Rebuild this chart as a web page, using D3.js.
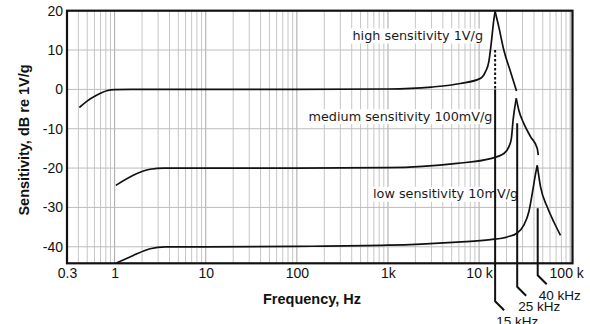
<!DOCTYPE html>
<html><head><meta charset="utf-8">
<script src="https://cdn.jsdelivr.net/npm/d3@7"></script>
<style>html,body{margin:0;padding:0;background:#fff;} svg{display:block;}</style>
</head><body><svg id="c" width="590" height="324"></svg>
<script>
// ---- data ----
const freqTicks = [0.3, 1, 10, 100, 1000, 10000, 100000];
const freqTickLabels = ["0.3", "1", "10", "100", "1k", "10 k", "100 k"];
const dbTicks = [20, 10, 0, -10, -20, -30, -40];

const highFreq = [0.41, 0.49, 0.64, 0.82, 1.0, 1.5, 10, 100, 1000, 3000, 6245, 10360, 11760, 12780, 13590, 14500, 15000, 16460, 18680, 22130, 25770];
const highDb   = [-4.6, -3.1, -1.45, -0.35, -0.05, 0, 0, 0, 0.1, 0.6, 1.5, 2.8, 4.5, 7, 11.7, 17.6, 19.8, 15.9, 10, 4.5, -0.4];

const mediumFreq = [1.03, 1.6, 2.45, 3.5, 10, 100, 1000, 5745, 13340, 18670, 21200, 22600, 23700, 25600, 27300, 31000, 36700, 43500, 44600];
const mediumDb   = [-24.4, -21.8, -20.3, -20, -20, -20, -19.9, -18.8, -17.6, -16.3, -14.6, -12.5, -7.5, -2.3, -5.3, -8.7, -12, -15, -16.7];

const lowFreq = [1.03, 1.6, 2.45, 3.6, 10, 100, 1000, 5745, 13340, 20370, 26220, 30990, 35170, 38300, 41690, 43500, 47300, 56000, 66200, 78300];
const lowDb   = [-44.2, -42.2, -40.5, -40, -40, -39.9, -39.6, -38.8, -38.2, -37.5, -36.5, -34.5, -31.1, -26.5, -21.4, -19.3, -24.8, -29.9, -33.7, -37.1];

const curveLabels = ["high sensitivity 1V/g", "medium sensitivity 100mV/g", "low sensitivity 10mV/g"];

const markerLabels = ["15 kHz", "25 kHz", "40 kHz"];
const markerFreqs = [15000, 26200, 44000];
const markerTopDb = [10, -8.6, -30.2];
const markerDashEndDb = [0, null, null];

// ---- layout ----
const svg = d3.select("#c");
const L = 67, R = 572.5, T = 10.7, B = 263.3;
const x = d3.scaleLog().domain([0.3, 106000]).range([L, R]);
const y = d3.scaleLinear().domain([-44.2, 20]).range([B, T]);

// grid
const gridG = svg.append("g");
for (let p = -1; p <= 5; p++) {
  for (let k = 1; k <= 9; k++) {
    const v = k * Math.pow(10, p);
    if (v <= 0.3 || v >= 106000) continue;
    gridG.append("line")
      .attr("x1", x(v)).attr("x2", x(v)).attr("y1", T).attr("y2", B)
      .attr("stroke", k === 1 ? "#a6a6a6" : "#c6c6c6").attr("stroke-width", 1);
  }
}
dbTicks.filter(d => d < 20).forEach(d => {
  gridG.append("line").attr("x1", L).attr("x2", R).attr("y1", y(d)).attr("y2", y(d))
    .attr("stroke", "#bdbdbd").attr("stroke-width", 1);
});

// curve labels with white boxes
const labelPos = [[352.5, 40], [308.5, 120.7], [373, 198.3]];
curveLabels.forEach((t, i) => {
  const g = svg.append("g");
  const rect = g.append("rect").attr("fill", "#fff");
  const txt = g.append("text").attr("x", labelPos[i][0]).attr("y", labelPos[i][1])
    .attr("font-family", "DejaVu Sans").attr("font-size", 12.8).attr("fill", "#1a1a1a").text(t);
  const w = txt.node().getComputedTextLength();
  rect.attr("x", labelPos[i][0] - 1.5).attr("y", labelPos[i][1] - 11.5).attr("width", w + 3).attr("height", 15);
});

// curves, split at the peak so the peak stays sharp
const line = d3.line().x(d => x(d[0])).y(d => y(d[1])).curve(d3.curveMonotoneX);
[[highFreq, highDb], [mediumFreq, mediumDb], [lowFreq, lowDb]].forEach(([f, v]) => {
  const pts = f.map((d, i) => [d, v[i]]);
  const im = d3.maxIndex(v);
  [pts.slice(0, im + 1), pts.slice(im)].forEach(part => {
    svg.append("path").attr("d", line(part)).attr("fill", "none")
      .attr("stroke", "#111").attr("stroke-width", 1.7);
  });
});

// frequency markers
const bendOff = [38, 23.5, 12];
markerFreqs.forEach((f, i) => {
  const mx = x(f);
  let yTop = y(markerTopDb[i]);
  if (markerDashEndDb[i] !== null) {
    svg.append("line").attr("x1", mx).attr("x2", mx).attr("y1", yTop).attr("y2", y(markerDashEndDb[i]))
      .attr("stroke", "#111").attr("stroke-width", 2).attr("stroke-dasharray", "2.5,2");
    yTop = y(markerDashEndDb[i]);
  }
  const bend = B + bendOff[i];
  svg.append("path").attr("d", `M${mx},${yTop}L${mx},${bend}L${mx + 9},${bend + 9}`)
    .attr("fill", "none").attr("stroke", "#111").attr("stroke-width", 2);
  svg.append("text").attr("x", mx + 1).attr("y", bend + 24.5)
    .attr("font-family", "Liberation Sans, Arial, sans-serif").attr("font-size", 13.5).attr("fill", "#111")
    .text(markerLabels[i]);
});

// axes
const xAxis = svg.append("g").attr("transform", `translate(0,${B})`)
  .call(d3.axisBottom(x).tickValues(freqTicks).tickFormat((d, i) => freqTickLabels[i]).tickSize(0).tickPadding(4.5));
const yAxis = svg.append("g").attr("transform", `translate(${L},0)`)
  .call(d3.axisLeft(y).tickValues(dbTicks).tickFormat(d => d).tickSize(0).tickPadding(4));
[xAxis, yAxis].forEach(a => {
  a.select(".domain").remove();
  a.selectAll("text").attr("font-family", "Liberation Sans, Arial, sans-serif").attr("font-size", 14).attr("fill", "#111");
});
xAxis.selectAll("text").filter((d, i) => i === freqTicks.length - 1).attr("dx", -4);

// frame
svg.append("rect").attr("x", L).attr("y", T).attr("width", R - L).attr("height", B - T)
  .attr("fill", "none").attr("stroke", "#111").attr("stroke-width", 2.2);

// titles
svg.append("text").attr("x", 312).attr("y", 304).attr("text-anchor", "middle")
  .attr("font-family", "Liberation Sans, Arial, sans-serif").attr("font-weight", "bold").attr("font-size", 14.5)
  .attr("fill", "#111").text("Frequency, Hz");
svg.append("text").attr("transform", "translate(28.5,140) rotate(-90)").attr("text-anchor", "middle")
  .attr("font-family", "Liberation Sans, Arial, sans-serif").attr("font-weight", "bold").attr("font-size", 14.5)
  .attr("fill", "#111").text("Sensitivity, dB re 1V/g");
</script>
</body></html>
